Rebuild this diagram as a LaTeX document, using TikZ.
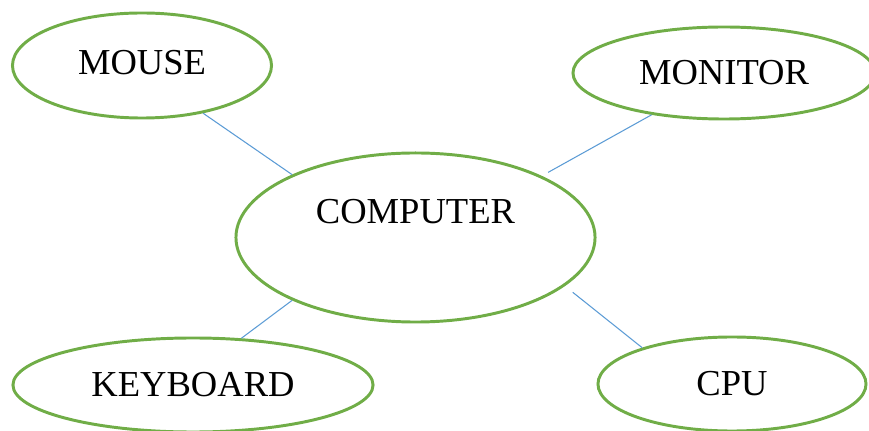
\documentclass[tikz,border=0pt]{standalone}
\usepackage{fontspec}
\setmainfont{Liberation Serif}
\usetikzlibrary{shapes.geometric}
\definecolor{ovalgreen}{HTML}{70AD47}
\definecolor{linkblue}{HTML}{5B9BD5}

\begin{document}
\begin{tikzpicture}[
  x=0.025cm, y=-0.025cm,
  font=\fontsize{26}{30}\selectfont,
  oval/.style={draw=ovalgreen, line width=2.1pt, ellipse, inner sep=0pt},
  link/.style={draw=linkblue, line width=0.75pt}
]
\useasboundingbox (0,0) rectangle (869,431);

\node[oval, minimum width=6.475cm, minimum height=2.625cm,
      label={[yshift=0.08cm]center:MOUSE}]                 (mouse)    at (142, 65.5)  {};
\node[oval, minimum width=7.55cm,  minimum height=2.3cm]   (monitor)  at (724, 73)    {MONITOR};
\node[oval, minimum width=8.975cm, minimum height=4.225cm,
      label={[yshift=0.66cm]center:COMPUTER}]              (computer) at (415.5, 237.5) {};
\node[oval, minimum width=9cm,     minimum height=2.35cm]  (keyboard) at (193, 385)   {KEYBOARD};
\node[oval, minimum width=6.7cm,   minimum height=2.35cm]  (cpu)      at (732, 384)   {CPU};

\draw[link] (mouse.-38)    -- (computer.153);
\draw[link, shorten >=0.18cm] (monitor.-150) -- (computer.26);
\draw[link] (keyboard.44)  -- (computer.-153);
\draw[link, shorten >=0.25cm] (cpu.158)      -- (computer.-18);
\end{tikzpicture}
\end{document}
